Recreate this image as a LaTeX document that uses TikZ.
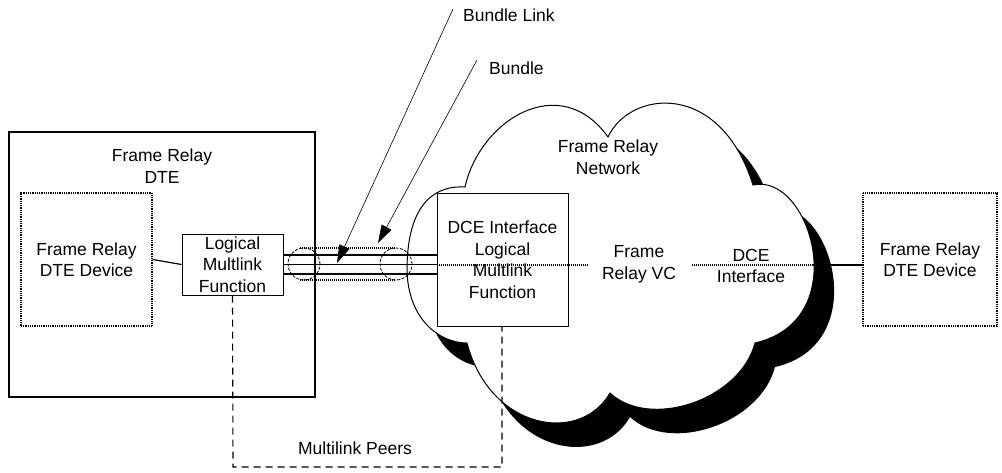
\documentclass[tikz,border=0pt]{standalone}
\usepackage{fontspec}
\setmainfont{Liberation Sans}
\usetikzlibrary{arrows.meta}
\tikzset{
  lbl/.style={align=center, inner sep=0pt, font=\fontsize{17.5}{21.5}\selectfont},
  solidbox/.style={draw, line width=1.1pt, fill=white, inner sep=0pt, align=center, font=\fontsize{17.5}{21.5}\selectfont},
  dotbox/.style={draw, line width=1.2pt, dash pattern=on 1pt off 0.8pt, fill=white, inner sep=0pt, align=center, font=\fontsize{17.5}{21.5}\selectfont},
  thickln/.style={line width=2.2pt},
  dotln/.style={line width=1.1pt, dash pattern=on 1pt off 1pt},
  peerln/.style={line width=1.1pt, dash pattern=on 7pt off 5pt},
  ptr/.style={line width=0.6pt, -{Triangle[length=18pt,width=11pt]}},
  cloudpic/.pic={
    \path[pic actions] (467,343) .. controls (440,343) and (408,320) .. (407,270)
      .. controls (407,210) and (430,185) .. (465,187)
      .. controls (480,120) and (560,70) .. (608,137)
      .. controls (630,90) and (720,80) .. (753,185)
      .. controls (810,172) and (855,320) .. (755,343)
      .. controls (740,400) and (650,430) .. (610,393)
      .. controls (580,445) and (490,430) .. (467,343) -- cycle;
  }
}
\begin{document}
\begin{tikzpicture}[x=1pt,y=-1pt]
\useasboundingbox (0,0) rectangle (1002,472);
\fill[white] (0,0) rectangle (1002,472);

% cloud with shadow
\pic[fill=black] at (20,24) {cloudpic};
\pic[draw=black, line width=1pt, fill=white] at (0,0) {cloudpic};

% boxes
\node[solidbox, minimum width=306pt, minimum height=265pt] (dte) at (162,264.5) {};
\node[lbl] (dtelbl) at (162,166) {Frame Relay\\DTE};
\node[dotbox, minimum width=131pt, minimum height=133pt] (ldev) at (86.5,259.5) {Frame Relay\\DTE Device};
\node[solidbox, line width=1pt, minimum width=101pt, minimum height=61pt] (lmf) at (232.5,264.5) {Logical\\Multlink\\Function};
\node[solidbox, line width=1pt, minimum width=131pt, minimum height=133pt] (dce) at (502.5,259.5) {DCE Interface\\Logical\\Multlink\\Function};
\node[dotbox, minimum width=134pt, minimum height=133pt] (rdev) at (930,259.5) {Frame Relay\\DTE Device};

% device to logical multilink function
\draw[line width=1.2pt] (ldev.east) -- (lmf.west);

% bundle links
\draw[thickln] (lmf.east |- 0,255) -- (dce.west |- 0,255);
\draw[thickln] (lmf.east |- 0,274) -- (dce.west |- 0,274);
\draw[line width=1.4pt] (lmf.east) -- (dce.west |- lmf.east);

% bundle tube
\draw[dotln] (300,248) -- (396,248);
\draw[dotln] (300,280) -- (396,280);
\draw[line width=0.8pt, dash pattern=on 3pt off 1.5pt] (304,264) ellipse [x radius=16pt, y radius=16pt];
\draw[line width=0.8pt, dash pattern=on 3pt off 1.5pt] (396,264) ellipse [x radius=16pt, y radius=16pt];

% virtual circuit
\coordinate (vcgapL) at (587,265);
\coordinate (vcgapR) at (692,265);
\coordinate (cloudR) at (813,265);
\draw[dotln] (dce.west |- 0,265) -- (vcgapL);
\draw[dotln] (vcgapR) -- (cloudR);
\draw[line width=2pt] (cloudR) -- (rdev.west |- cloudR);

% labels in cloud
\node[lbl] (netlbl) at (608,157) {Frame Relay\\Network};
\node[lbl] (vclbl) at (639,264.5) {Frame\\Relay VC};
\node[lbl] (dcelbl) at (751,266) {DCE\\Interface};

% multilink peers
\coordinate (pl) at (233,467);
\coordinate (pr) at (502,467);
\draw[peerln] (lmf.south) -- (pl) -- (pr) -- (dce.south -| pr);
\node[lbl] (peerlbl) at (355,448) {Multilink Peers};

% pointers
\node[lbl, anchor=west] (bllbl) at (463,15) {Bundle Link};
\node[lbl, anchor=west] (blbl) at (489,68) {Bundle};
\coordinate (blstart) at (453,9);
\coordinate (bltip) at (337,263);
\coordinate (bstart) at (477,60);
\coordinate (btip) at (378,243);
\draw[ptr] (blstart) -- (bltip);
\draw[ptr] (bstart) -- (btip);
\end{tikzpicture}
\end{document}
